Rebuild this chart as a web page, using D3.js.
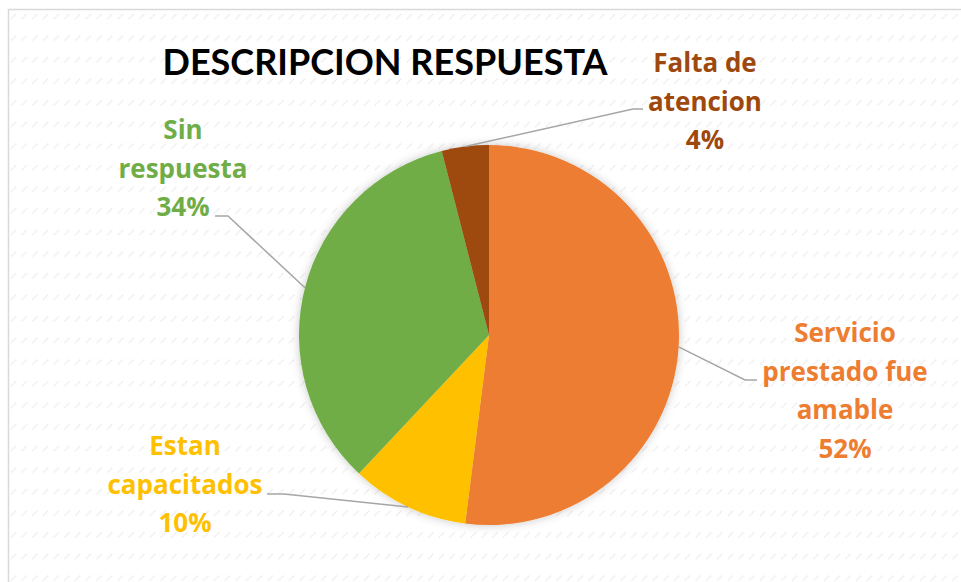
<!DOCTYPE html>
<html>
<head>
<meta charset="utf-8">
<script src="https://cdn.jsdelivr.net/npm/d3@7"></script>
<style>
  html, body { margin: 0; padding: 0; background: #fff; }
  svg { display: block; font-family: Lato, "Open Sans", sans-serif; }
</style>
</head>
<body>
<div id="chart"></div>
<script>
// data
const categories = ['Servicio prestado fue amable', 'Estan capacitados', 'Sin respuesta', 'Falta de atencion'];
const values = [52, 10, 34, 4];
const labelLines = [['Servicio', 'prestado fue', 'amable'], ['Estan', 'capacitados'], ['Sin', 'respuesta'], ['Falta de', 'atencion']];
const colors = ['#ED7D31', '#FFC000', '#70AD47', '#9E480E'];
const title = 'DESCRIPCION RESPUESTA';

const W = 961, H = 582;
const cx = 489, cy = 335, R = 190;

// label layout: elbow point, label center x, first baseline
const layout = [
  {elbow: [745, 380], end: [757, 380], x: 845, y: 342},
  {elbow: [284, 494], end: [267, 494], x: 185, y: 455},
  {elbow: [228, 216], end: [215, 216], x: 183, y: 139},
  {elbow: [633, 109], end: [643, 109], x: 705, y: 72}
];

const svg = d3.select('#chart').append('svg')
  .attr('width', W)
  .attr('height', H);

const defs = svg.append('defs');

const pat = defs.append('pattern')
  .attr('id', 'bg')
  .attr('patternUnits', 'userSpaceOnUse')
  .attr('width', 10.7)
  .attr('height', 21.6)
  .attr('x', 9).attr('y', 12);
pat.append('line')
  .attr('x1', 2).attr('y1', 7).attr('x2', 7.5).attr('y2', 1.5)
  .attr('stroke', '#dcdcdc')
  .attr('stroke-width', 1.2)
  .attr('stroke-dasharray', '1 1');

const sh = defs.append('filter').attr('id', 'shadow')
  .attr('x', '-20%').attr('y', '-20%').attr('width', '140%').attr('height', '140%');
sh.append('feDropShadow')
  .attr('dx', 0).attr('dy', 0).attr('stdDeviation', 5)
  .attr('flood-color', '#000').attr('flood-opacity', 0.22);

// chart area with border
svg.append('rect')
  .attr('x', 8.5).attr('y', 9.5)
  .attr('width', W).attr('height', H)
  .attr('fill', '#fff')
  .attr('stroke', '#d9d9d9')
  .attr('stroke-width', 1.5);
svg.append('rect')
  .attr('x', 9).attr('y', 10)
  .attr('width', W).attr('height', H)
  .attr('fill', 'url(#bg)');

svg.append('text')
  .attr('x', 385).attr('y', 75)
  .attr('text-anchor', 'middle')
  .attr('font-size', 36)
  .attr('font-weight', 700)
  .attr('fill', '#000')
  .text(title);

const total = d3.sum(values);
const pie = d3.pie().sort(null).value(d => d);
const arcs = pie(values);
const arc = d3.arc().innerRadius(0).outerRadius(R);

const g = svg.append('g').attr('transform', `translate(${cx},${cy})`);

g.append('g')
  .attr('filter', 'url(#shadow)')
  .selectAll('path')
  .data(arcs)
  .enter()
  .append('path')
  .attr('d', arc)
  .attr('fill', (d, i) => colors[i]);

// leader lines
svg.selectAll('polyline.leader')
  .data(arcs)
  .enter()
  .append('polyline')
  .attr('class', 'leader')
  .attr('fill', 'none')
  .attr('stroke', '#a6a6a6')
  .attr('stroke-width', 1.5)
  .attr('points', (d, i) => {
    const a = (d.startAngle + d.endAngle) / 2;
    const sx = cx + R * Math.sin(a), sy = cy - R * Math.cos(a);
    const l = layout[i];
    return [[sx, sy], l.elbow, l.end].map(p => p.join(',')).join(' ');
  });

// labels
const labels = svg.selectAll('text.lbl')
  .data(arcs)
  .enter()
  .append('text')
  .attr('class', 'lbl')
  .attr('text-anchor', 'middle')
  .attr('font-family', '"Open Sans", sans-serif')
  .attr('font-size', 26)
  .attr('font-weight', 700)
  .attr('fill', (d, i) => colors[i]);

labels.each(function(d, i) {
  const t = d3.select(this);
  const lines = labelLines[i].concat([Math.round(d.value / total * 100) + '%']);
  lines.forEach((s, k) => {
    t.append('tspan')
      .attr('x', layout[i].x)
      .attr('y', layout[i].y + k * 38.5)
      .text(s);
  });
});
</script>
</body>
</html>
